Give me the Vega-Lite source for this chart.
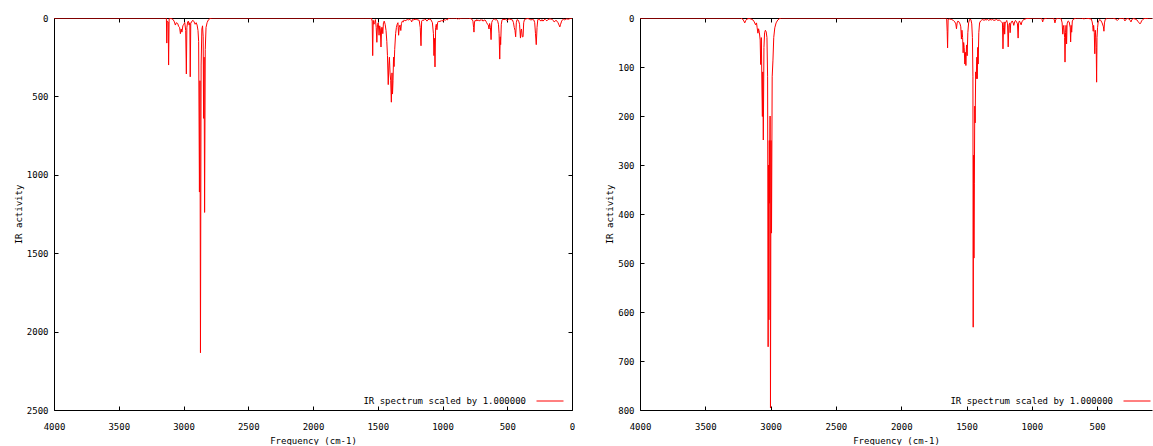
{
  "$schema": "https://vega.github.io/schema/vega-lite/v6.json",
  "background": "white",
  "padding": {"left": 14, "top": 14, "right": 0, "bottom": 0},
  "config": {
    "font": "DejaVu Sans Mono",
    "view": {"stroke": null},
    "concat": {"spacing": 30},
    "axis": {
      "labelFont": "DejaVu Sans Mono", "labelFontSize": 9, "labelColor": "#000",
      "titleFont": "DejaVu Sans Mono", "titleFontSize": 9, "titleFontWeight": "normal", "titleColor": "#000",
      "domainColor": "#000", "domainWidth": 1, "tickColor": "#000", "tickSize": -4, "tickWidth": 1,
      "grid": false, "labelFlush": false, "labelOverlap": false, "format": "d"
    },
    "axisX": {"labelPadding": 16},
    "axisY": {"labelPadding": 10},
    "legend": {
      "labelFont": "DejaVu Sans Mono", "labelFontSize": 9, "labelColor": "#000", "labelLimit": 0,
      "symbolType": "stroke", "symbolStrokeWidth": 1, "symbolSize": 729, "symbolStrokeColor": "#ff0000",
      "labelAlign": "right", "labelOffset": -38, "padding": 0
    }
  },
  "datasets": {
    "left": [
      {"freq": 4000, "ir": 0}, {"freq": 3150, "ir": 0}, {"freq": 3140, "ir": 0}, {"freq": 3132, "ir": 2}, {"freq": 3129, "ir": 160}, {"freq": 3126, "ir": 20}, {"freq": 3118, "ir": 25}, {"freq": 3115, "ir": 300}, {"freq": 3111, "ir": 5}, {"freq": 3095, "ir": 3}, {"freq": 3080, "ir": 10}, {"freq": 3070, "ir": 25}, {"freq": 3063, "ir": 45}, {"freq": 3055, "ir": 30}, {"freq": 3045, "ir": 35}, {"freq": 3037, "ir": 55}, {"freq": 3030, "ir": 60}, {"freq": 3024, "ir": 100}, {"freq": 3018, "ir": 70}, {"freq": 3012, "ir": 90}, {"freq": 3005, "ir": 50}, {"freq": 2998, "ir": 40}, {"freq": 2990, "ir": 30}, {"freq": 2983, "ir": 80}, {"freq": 2978, "ir": 357}, {"freq": 2974, "ir": 60}, {"freq": 2968, "ir": 25}, {"freq": 2962, "ir": 20}, {"freq": 2957, "ir": 45}, {"freq": 2951, "ir": 30}, {"freq": 2948, "ir": 375}, {"freq": 2944, "ir": 35}, {"freq": 2935, "ir": 20}, {"freq": 2926, "ir": 15}, {"freq": 2918, "ir": 25}, {"freq": 2910, "ir": 40}, {"freq": 2902, "ir": 30}, {"freq": 2895, "ir": 45}, {"freq": 2888, "ir": 80}, {"freq": 2883, "ir": 150}, {"freq": 2877, "ir": 1110}, {"freq": 2873, "ir": 400}, {"freq": 2869, "ir": 2135}, {"freq": 2864, "ir": 300}, {"freq": 2858, "ir": 70}, {"freq": 2853, "ir": 50}, {"freq": 2848, "ir": 120}, {"freq": 2845, "ir": 640}, {"freq": 2841, "ir": 250}, {"freq": 2837, "ir": 1240}, {"freq": 2832, "ir": 200}, {"freq": 2826, "ir": 60}, {"freq": 2818, "ir": 30}, {"freq": 2808, "ir": 12}, {"freq": 2795, "ir": 3}, {"freq": 2780, "ir": 0},
      {"freq": 1600, "ir": 0}, {"freq": 1560, "ir": 0}, {"freq": 1548, "ir": 3}, {"freq": 1543, "ir": 20}, {"freq": 1539, "ir": 240}, {"freq": 1535, "ir": 15}, {"freq": 1530, "ir": 40}, {"freq": 1524, "ir": 30}, {"freq": 1518, "ir": 10}, {"freq": 1512, "ir": 60}, {"freq": 1507, "ir": 155}, {"freq": 1502, "ir": 40}, {"freq": 1496, "ir": 30}, {"freq": 1490, "ir": 110}, {"freq": 1485, "ir": 50}, {"freq": 1480, "ir": 70}, {"freq": 1475, "ir": 185}, {"freq": 1470, "ir": 60}, {"freq": 1465, "ir": 60}, {"freq": 1461, "ir": 100}, {"freq": 1456, "ir": 30}, {"freq": 1450, "ir": 20}, {"freq": 1443, "ir": 40}, {"freq": 1436, "ir": 80}, {"freq": 1430, "ir": 150}, {"freq": 1425, "ir": 240}, {"freq": 1419, "ir": 425}, {"freq": 1414, "ir": 300}, {"freq": 1410, "ir": 250}, {"freq": 1405, "ir": 350}, {"freq": 1400, "ir": 400}, {"freq": 1395, "ir": 537}, {"freq": 1390, "ir": 350}, {"freq": 1386, "ir": 485}, {"freq": 1382, "ir": 400}, {"freq": 1378, "ir": 250}, {"freq": 1374, "ir": 310}, {"freq": 1369, "ir": 200}, {"freq": 1362, "ir": 100}, {"freq": 1356, "ir": 60}, {"freq": 1350, "ir": 40}, {"freq": 1344, "ir": 30}, {"freq": 1339, "ir": 110}, {"freq": 1334, "ir": 60}, {"freq": 1328, "ir": 45}, {"freq": 1322, "ir": 80}, {"freq": 1317, "ir": 35}, {"freq": 1310, "ir": 20}, {"freq": 1303, "ir": 25}, {"freq": 1296, "ir": 12}, {"freq": 1289, "ir": 18}, {"freq": 1282, "ir": 15}, {"freq": 1272, "ir": 10}, {"freq": 1262, "ir": 12}, {"freq": 1252, "ir": 8}, {"freq": 1244, "ir": 15}, {"freq": 1238, "ir": 25}, {"freq": 1232, "ir": 10}, {"freq": 1222, "ir": 12}, {"freq": 1212, "ir": 8}, {"freq": 1200, "ir": 10}, {"freq": 1190, "ir": 12}, {"freq": 1180, "ir": 15}, {"freq": 1172, "ir": 60}, {"freq": 1166, "ir": 177}, {"freq": 1161, "ir": 20}, {"freq": 1152, "ir": 12}, {"freq": 1143, "ir": 15}, {"freq": 1135, "ir": 8}, {"freq": 1126, "ir": 12}, {"freq": 1120, "ir": 20}, {"freq": 1112, "ir": 10}, {"freq": 1100, "ir": 8}, {"freq": 1090, "ir": 10}, {"freq": 1078, "ir": 30}, {"freq": 1070, "ir": 100}, {"freq": 1066, "ir": 240}, {"freq": 1062, "ir": 130}, {"freq": 1058, "ir": 312}, {"freq": 1053, "ir": 60}, {"freq": 1048, "ir": 40}, {"freq": 1043, "ir": 75}, {"freq": 1038, "ir": 30}, {"freq": 1031, "ir": 20}, {"freq": 1025, "ir": 25}, {"freq": 1019, "ir": 18}, {"freq": 1012, "ir": 22}, {"freq": 1005, "ir": 15}, {"freq": 996, "ir": 20}, {"freq": 988, "ir": 10}, {"freq": 978, "ir": 15}, {"freq": 970, "ir": 8}, {"freq": 962, "ir": 12}, {"freq": 955, "ir": 3}, {"freq": 940, "ir": 0}, {"freq": 900, "ir": 0}, {"freq": 888, "ir": 3}, {"freq": 882, "ir": 8}, {"freq": 876, "ir": 3}, {"freq": 868, "ir": 5}, {"freq": 862, "ir": 2}, {"freq": 850, "ir": 0}, {"freq": 800, "ir": 0}, {"freq": 785, "ir": 3}, {"freq": 770, "ir": 10}, {"freq": 765, "ir": 20}, {"freq": 760, "ir": 60}, {"freq": 757, "ir": 90}, {"freq": 753, "ir": 25}, {"freq": 748, "ir": 15}, {"freq": 741, "ir": 20}, {"freq": 735, "ir": 10}, {"freq": 728, "ir": 18}, {"freq": 722, "ir": 12}, {"freq": 715, "ir": 20}, {"freq": 708, "ir": 12}, {"freq": 701, "ir": 15}, {"freq": 695, "ir": 10}, {"freq": 688, "ir": 20}, {"freq": 680, "ir": 15}, {"freq": 672, "ir": 12}, {"freq": 665, "ir": 20}, {"freq": 659, "ir": 30}, {"freq": 652, "ir": 40}, {"freq": 646, "ir": 45}, {"freq": 641, "ir": 70}, {"freq": 636, "ir": 35}, {"freq": 630, "ir": 60}, {"freq": 625, "ir": 138}, {"freq": 620, "ir": 30}, {"freq": 614, "ir": 15}, {"freq": 606, "ir": 10}, {"freq": 598, "ir": 8}, {"freq": 590, "ir": 12}, {"freq": 582, "ir": 10}, {"freq": 574, "ir": 20}, {"freq": 568, "ir": 40}, {"freq": 563, "ir": 100}, {"freq": 558, "ir": 262}, {"freq": 554, "ir": 120}, {"freq": 551, "ir": 170}, {"freq": 546, "ir": 40}, {"freq": 540, "ir": 12}, {"freq": 534, "ir": 8}, {"freq": 525, "ir": 10}, {"freq": 515, "ir": 8}, {"freq": 505, "ir": 12}, {"freq": 500, "ir": 18}, {"freq": 494, "ir": 10}, {"freq": 487, "ir": 5}, {"freq": 478, "ir": 8}, {"freq": 470, "ir": 10}, {"freq": 460, "ir": 12}, {"freq": 452, "ir": 30}, {"freq": 446, "ir": 60}, {"freq": 440, "ir": 80}, {"freq": 435, "ir": 120}, {"freq": 430, "ir": 30}, {"freq": 424, "ir": 10}, {"freq": 418, "ir": 12}, {"freq": 412, "ir": 20}, {"freq": 405, "ir": 40}, {"freq": 398, "ir": 128}, {"freq": 394, "ir": 80}, {"freq": 390, "ir": 70}, {"freq": 384, "ir": 120}, {"freq": 378, "ir": 120}, {"freq": 373, "ir": 30}, {"freq": 367, "ir": 10}, {"freq": 360, "ir": 8}, {"freq": 352, "ir": 5}, {"freq": 340, "ir": 3}, {"freq": 328, "ir": 8}, {"freq": 318, "ir": 12}, {"freq": 305, "ir": 10}, {"freq": 295, "ir": 12}, {"freq": 288, "ir": 30}, {"freq": 282, "ir": 100}, {"freq": 276, "ir": 170}, {"freq": 270, "ir": 60}, {"freq": 264, "ir": 10}, {"freq": 256, "ir": 8}, {"freq": 248, "ir": 12}, {"freq": 240, "ir": 20}, {"freq": 232, "ir": 10}, {"freq": 224, "ir": 20}, {"freq": 216, "ir": 12}, {"freq": 208, "ir": 8}, {"freq": 200, "ir": 15}, {"freq": 193, "ir": 18}, {"freq": 186, "ir": 10}, {"freq": 178, "ir": 8}, {"freq": 170, "ir": 5}, {"freq": 160, "ir": 8}, {"freq": 152, "ir": 10}, {"freq": 145, "ir": 15}, {"freq": 138, "ir": 25}, {"freq": 131, "ir": 20}, {"freq": 124, "ir": 15}, {"freq": 116, "ir": 20}, {"freq": 108, "ir": 30}, {"freq": 100, "ir": 45}, {"freq": 94, "ir": 57}, {"freq": 88, "ir": 40}, {"freq": 80, "ir": 20}, {"freq": 72, "ir": 10}, {"freq": 64, "ir": 8}, {"freq": 56, "ir": 12}, {"freq": 48, "ir": 8}, {"freq": 40, "ir": 5}, {"freq": 30, "ir": 8}, {"freq": 20, "ir": 5}, {"freq": 10, "ir": 2}, {"freq": 0, "ir": 0}
    ],
    "right": [
      {"freq": 4000, "ir": 0}, {"freq": 3230, "ir": 0}, {"freq": 3215, "ir": 2}, {"freq": 3205, "ir": 6}, {"freq": 3198, "ir": 10}, {"freq": 3190, "ir": 5}, {"freq": 3180, "ir": 2}, {"freq": 3165, "ir": 1}, {"freq": 3150, "ir": 2}, {"freq": 3135, "ir": 4}, {"freq": 3125, "ir": 8}, {"freq": 3115, "ir": 14}, {"freq": 3108, "ir": 10}, {"freq": 3103, "ir": 20}, {"freq": 3097, "ir": 31}, {"freq": 3092, "ir": 22}, {"freq": 3086, "ir": 30}, {"freq": 3080, "ir": 45}, {"freq": 3076, "ir": 95}, {"freq": 3071, "ir": 40}, {"freq": 3066, "ir": 153}, {"freq": 3063, "ir": 201}, {"freq": 3060, "ir": 110}, {"freq": 3056, "ir": 249}, {"freq": 3051, "ir": 60}, {"freq": 3046, "ir": 30}, {"freq": 3040, "ir": 25}, {"freq": 3034, "ir": 28}, {"freq": 3028, "ir": 40}, {"freq": 3023, "ir": 120}, {"freq": 3019, "ir": 671}, {"freq": 3016, "ir": 300}, {"freq": 3013, "ir": 616}, {"freq": 3010, "ir": 250}, {"freq": 3008, "ir": 378}, {"freq": 3004, "ir": 200}, {"freq": 3001, "ir": 796}, {"freq": 2997, "ir": 250}, {"freq": 2993, "ir": 439}, {"freq": 2988, "ir": 120}, {"freq": 2982, "ir": 86}, {"freq": 2976, "ir": 40}, {"freq": 2968, "ir": 20}, {"freq": 2958, "ir": 10}, {"freq": 2945, "ir": 4}, {"freq": 2930, "ir": 1}, {"freq": 2915, "ir": 0},
      {"freq": 1700, "ir": 0}, {"freq": 1660, "ir": 0}, {"freq": 1652, "ir": 2}, {"freq": 1648, "ir": 28}, {"freq": 1645, "ir": 61}, {"freq": 1641, "ir": 3}, {"freq": 1630, "ir": 2}, {"freq": 1615, "ir": 3}, {"freq": 1600, "ir": 5}, {"freq": 1590, "ir": 8}, {"freq": 1582, "ir": 12}, {"freq": 1577, "ir": 22}, {"freq": 1572, "ir": 10}, {"freq": 1565, "ir": 6}, {"freq": 1558, "ir": 8}, {"freq": 1550, "ir": 12}, {"freq": 1544, "ir": 18}, {"freq": 1539, "ir": 43}, {"freq": 1535, "ir": 25}, {"freq": 1530, "ir": 40}, {"freq": 1526, "ir": 71}, {"freq": 1522, "ir": 50}, {"freq": 1518, "ir": 60}, {"freq": 1513, "ir": 94}, {"freq": 1509, "ir": 70}, {"freq": 1505, "ir": 97}, {"freq": 1500, "ir": 55}, {"freq": 1495, "ir": 77}, {"freq": 1490, "ir": 30}, {"freq": 1484, "ir": 10}, {"freq": 1478, "ir": 4}, {"freq": 1472, "ir": 2}, {"freq": 1466, "ir": 4}, {"freq": 1460, "ir": 12}, {"freq": 1455, "ir": 40}, {"freq": 1451, "ir": 120}, {"freq": 1449, "ir": 631}, {"freq": 1446, "ir": 280}, {"freq": 1443, "ir": 490}, {"freq": 1440, "ir": 337}, {"freq": 1437, "ir": 180}, {"freq": 1434, "ir": 214}, {"freq": 1430, "ir": 110}, {"freq": 1426, "ir": 124}, {"freq": 1421, "ir": 80}, {"freq": 1418, "ir": 124}, {"freq": 1414, "ir": 60}, {"freq": 1411, "ir": 94}, {"freq": 1406, "ir": 30}, {"freq": 1400, "ir": 10}, {"freq": 1392, "ir": 6}, {"freq": 1383, "ir": 4}, {"freq": 1375, "ir": 3}, {"freq": 1366, "ir": 5}, {"freq": 1358, "ir": 3}, {"freq": 1350, "ir": 4}, {"freq": 1340, "ir": 3}, {"freq": 1330, "ir": 5}, {"freq": 1320, "ir": 3}, {"freq": 1310, "ir": 4}, {"freq": 1300, "ir": 3}, {"freq": 1290, "ir": 5}, {"freq": 1280, "ir": 4}, {"freq": 1270, "ir": 3}, {"freq": 1260, "ir": 5}, {"freq": 1250, "ir": 4}, {"freq": 1240, "ir": 6}, {"freq": 1232, "ir": 8}, {"freq": 1225, "ir": 10}, {"freq": 1221, "ir": 63}, {"freq": 1217, "ir": 20}, {"freq": 1212, "ir": 8}, {"freq": 1208, "ir": 33}, {"freq": 1204, "ir": 10}, {"freq": 1198, "ir": 8}, {"freq": 1192, "ir": 5}, {"freq": 1186, "ir": 12}, {"freq": 1181, "ir": 59}, {"freq": 1176, "ir": 15}, {"freq": 1170, "ir": 10}, {"freq": 1166, "ir": 30}, {"freq": 1162, "ir": 12}, {"freq": 1156, "ir": 8}, {"freq": 1150, "ir": 6}, {"freq": 1143, "ir": 10}, {"freq": 1138, "ir": 15}, {"freq": 1132, "ir": 8}, {"freq": 1125, "ir": 5}, {"freq": 1117, "ir": 8}, {"freq": 1110, "ir": 12}, {"freq": 1105, "ir": 41}, {"freq": 1101, "ir": 10}, {"freq": 1095, "ir": 6}, {"freq": 1088, "ir": 10}, {"freq": 1082, "ir": 14}, {"freq": 1076, "ir": 8}, {"freq": 1070, "ir": 5}, {"freq": 1060, "ir": 3}, {"freq": 1050, "ir": 2}, {"freq": 1040, "ir": 1}, {"freq": 1000, "ir": 0}, {"freq": 930, "ir": 0}, {"freq": 922, "ir": 3}, {"freq": 917, "ir": 8}, {"freq": 912, "ir": 3}, {"freq": 900, "ir": 1}, {"freq": 880, "ir": 0}, {"freq": 835, "ir": 0}, {"freq": 828, "ir": 4}, {"freq": 823, "ir": 10}, {"freq": 818, "ir": 4}, {"freq": 810, "ir": 1}, {"freq": 790, "ir": 0}, {"freq": 775, "ir": 2}, {"freq": 768, "ir": 10}, {"freq": 763, "ir": 33}, {"freq": 759, "ir": 20}, {"freq": 755, "ir": 15}, {"freq": 749, "ir": 40}, {"freq": 746, "ir": 90}, {"freq": 742, "ir": 30}, {"freq": 738, "ir": 15}, {"freq": 734, "ir": 53}, {"freq": 730, "ir": 12}, {"freq": 722, "ir": 6}, {"freq": 714, "ir": 8}, {"freq": 706, "ir": 20}, {"freq": 703, "ir": 49}, {"freq": 699, "ir": 15}, {"freq": 695, "ir": 29}, {"freq": 690, "ir": 6}, {"freq": 680, "ir": 2}, {"freq": 660, "ir": 0}, {"freq": 620, "ir": 0}, {"freq": 600, "ir": 2}, {"freq": 590, "ir": 0}, {"freq": 545, "ir": 2}, {"freq": 538, "ir": 8}, {"freq": 534, "ir": 15}, {"freq": 530, "ir": 27}, {"freq": 527, "ir": 15}, {"freq": 522, "ir": 30}, {"freq": 518, "ir": 73}, {"freq": 514, "ir": 25}, {"freq": 510, "ir": 40}, {"freq": 507, "ir": 60}, {"freq": 504, "ir": 131}, {"freq": 501, "ir": 40}, {"freq": 497, "ir": 20}, {"freq": 492, "ir": 8}, {"freq": 486, "ir": 5}, {"freq": 478, "ir": 3}, {"freq": 470, "ir": 6}, {"freq": 462, "ir": 10}, {"freq": 452, "ir": 18}, {"freq": 448, "ir": 27}, {"freq": 444, "ir": 10}, {"freq": 438, "ir": 3}, {"freq": 420, "ir": 0}, {"freq": 380, "ir": 0}, {"freq": 360, "ir": 2}, {"freq": 345, "ir": 5}, {"freq": 338, "ir": 3}, {"freq": 330, "ir": 1}, {"freq": 300, "ir": 0}, {"freq": 293, "ir": 3}, {"freq": 287, "ir": 6}, {"freq": 281, "ir": 3}, {"freq": 270, "ir": 1}, {"freq": 255, "ir": 2}, {"freq": 247, "ir": 5}, {"freq": 241, "ir": 8}, {"freq": 235, "ir": 4}, {"freq": 225, "ir": 1}, {"freq": 210, "ir": 2}, {"freq": 195, "ir": 4}, {"freq": 185, "ir": 8}, {"freq": 178, "ir": 10}, {"freq": 172, "ir": 12}, {"freq": 166, "ir": 10}, {"freq": 160, "ir": 6}, {"freq": 150, "ir": 3}, {"freq": 140, "ir": 1}, {"freq": 120, "ir": 1}, {"freq": 105, "ir": 0}, {"freq": 80, "ir": 0}
    ]
  },
  "hconcat": [
    {
      "width": 518, "height": 392,
      "data": {"name": "left"},
      "layer": [
        {
          "mark": {"type": "line", "color": "#ff0000", "strokeWidth": 1, "clip": true},
          "encoding": {
            "x": {"field": "freq", "type": "quantitative", "scale": {"domain": [0, 4000], "reverse": true, "nice": false, "zero": false},
              "axis": {"orient": "bottom", "title": "Frequency (cm-1)", "values": [0, 500, 1000, 1500, 2000, 2500, 3000, 3500, 4000], "titlePadding": 5}},
            "y": {"field": "ir", "type": "quantitative", "scale": {"domain": [0, 2500], "reverse": true, "nice": false},
              "axis": {"orient": "left", "title": "IR activity", "values": [0, 500, 1000, 1500, 2000, 2500], "titlePadding": 3}},
            "color": {"datum": "IR spectrum scaled by 1.000000", "type": "nominal", "scale": {"range": ["#ff0000"]},
              "legend": {"title": null, "orient": "none", "legendX": 482, "legendY": 369}}
          }
        },
        {
          "mark": {"type": "line", "opacity": 0},
          "encoding": {
            "x": {"field": "freq", "type": "quantitative", "axis": {"orient": "top", "title": null, "labels": false, "values": [0, 500, 1000, 1500, 2000, 2500, 3000, 3500, 4000]}},
            "y": {"field": "ir", "type": "quantitative", "axis": {"orient": "right", "title": null, "labels": false, "values": [0, 500, 1000, 1500, 2000, 2500]}}
          }
        }
      ]
    },
    {
      "width": 512, "height": 392,
      "data": {"name": "right"},
      "layer": [
        {
          "mark": {"type": "line", "color": "#ff0000", "strokeWidth": 1, "clip": true},
          "encoding": {
            "x": {"field": "freq", "type": "quantitative", "scale": {"domain": [80, 4000], "reverse": true, "nice": false, "zero": false},
              "axis": {"orient": "bottom", "title": "Frequency (cm-1)", "values": [500, 1000, 1500, 2000, 2500, 3000, 3500, 4000], "titlePadding": 5}},
            "y": {"field": "ir", "type": "quantitative", "scale": {"domain": [0, 800], "reverse": true, "nice": false},
              "axis": {"orient": "left", "title": "IR activity", "values": [0, 100, 200, 300, 400, 500, 600, 700, 800], "titlePadding": 3}},
            "color": {"datum": "IR spectrum scaled by 1.000000", "type": "nominal", "scale": {"range": ["#ff0000"]},
              "legend": {"title": null, "orient": "none", "legendX": 483, "legendY": 369}}
          }
        },
        {
          "mark": {"type": "line", "opacity": 0},
          "encoding": {
            "x": {"field": "freq", "type": "quantitative", "axis": {"orient": "top", "title": null, "labels": false, "values": [500, 1000, 1500, 2000, 2500, 3000, 3500, 4000]}}
          }
        }
      ]
    }
  ],
  "resolve": {"scale": {"color": "independent"}, "legend": {"color": "independent"}}
}
